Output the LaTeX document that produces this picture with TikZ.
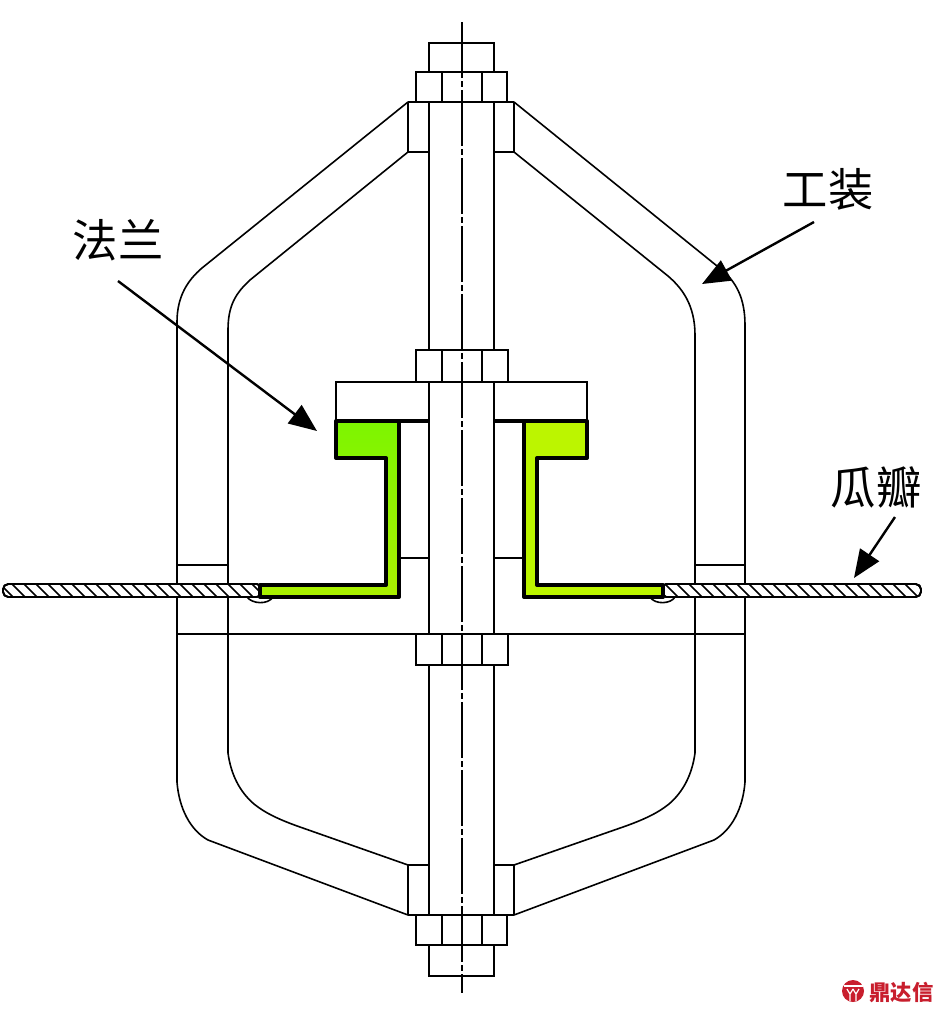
\documentclass[tikz,border=0pt]{standalone}
\usepackage{fontspec}
\newfontfamily\cjk{Noto Sans CJK SC}
\usetikzlibrary{arrows.meta}
\definecolor{greenLtop}{RGB}{125,245,0}
\definecolor{greenLbot}{RGB}{170,240,0}
\definecolor{greenR}{RGB}{188,245,0}
\definecolor{logored}{RGB}{200,30,45}
\tikzset{
  part/.style={draw=black,line width=1.45pt,line join=miter},
  thinpart/.style={draw=black,line width=1.2pt,line cap=round,line join=round},
  heavy/.style={draw=black,line width=3pt,line join=round},
  centre/.style={draw=black,line width=1.3pt,dash pattern=on 42pt off 2.5pt on 4pt off 2.5pt},
  pointer/.style={draw=black,line width=1.8pt,-{Triangle[length=21pt,width=17pt]}},
  caption/.style={font=\cjk\fontsize{34}{34}\selectfont,inner sep=0pt},
  hatchline/.style={draw=black,line width=1.3pt},
  skin/.style={draw=black,line width=1.4pt,fill=white,rounded corners=4pt}
}
\begin{document}
\begin{tikzpicture}[x=0.75pt,y=-0.75pt]
\useasboundingbox (0,0) rectangle (943,1015);
\fill[white] (0,0) rectangle (943,1015);

% fixture frame, left side
\draw[thinpart] (408,102) -- (202,268) .. controls (188,280) and (177,296) .. (177,322) -- (177,782)
  .. controls (179,808) and (190,830) .. (208,840) -- (408,915);
\draw[thinpart] (408,152) -- (250,280) .. controls (236,293) and (228,305) .. (228,330) -- (228,753)
  .. controls (231,775) and (240,792) .. (254,804) .. controls (265,813) and (280,820) .. (300,827) -- (408,865);
% fixture frame, right side
\draw[thinpart] (514,102) -- (722,270) .. controls (736,282) and (745,298) .. (745,325) -- (745,782)
  .. controls (743,808) and (732,830) .. (714,840) -- (514,915);
\draw[thinpart] (514,152) -- (668,276) .. controls (682,288) and (695,305) .. (695,335) -- (695,753)
  .. controls (692,775) and (683,792) .. (669,804) .. controls (658,813) and (643,820) .. (623,827) -- (514,865);
\draw[thinpart] (177,565) -- (228,565) (695,565) -- (745,565);
\draw[part] (177,634) -- (745,634);

% bolt
\draw[part] (429,102) -- (429,350) (494,102) -- (494,350);
\draw[part] (429,382) -- (429,634) (494,382) -- (494,634);
\draw[part] (429,665) -- (429,915) (494,665) -- (494,915);
% top head, nut, plate
\draw[part] (429,72) rectangle (494,43);
\draw[part] (416,72) rectangle (507,102);
\draw[part] (442,72) -- (442,102) (482,72) -- (482,102);
\draw[part] (408,102) -- (408,152) -- (429,152) (514,102) -- (514,152) -- (494,152) (408,102) -- (514,102);
% middle nut
\draw[part] (416,350) rectangle (508,382);
\draw[part] (442,350) -- (442,382) (482,350) -- (482,382);
% lower nut
\draw[part] (416,634) rectangle (508,665);
\draw[part] (442,634) -- (442,665) (482,634) -- (482,665);
% bottom plate, nut, head
\draw[part] (408,915) -- (408,865) -- (429,865) (514,915) -- (514,865) -- (494,865) (408,915) -- (514,915);
\draw[part] (416,915) rectangle (507,945);
\draw[part] (442,915) -- (442,945) (482,915) -- (482,945);
\draw[part] (429,945) rectangle (494,976);
% press plate
\draw[part] (336,421) -- (336,382) -- (587,382) -- (587,421);
% spacer lines
\draw[part] (399,558) -- (429,558) (494,558) -- (524,558);

% sheet (petal)
\draw[skin] (3,584) rectangle (262,597);
\draw[skin] (661,584) rectangle (921,597);
\begin{scope}
  \clip[rounded corners=4pt] (3,584) rectangle (262,597);
  \foreach \x in {0,12,...,264} \draw[hatchline] (\x,584) -- (\x+13,597);
\end{scope}
\begin{scope}
  \clip[rounded corners=4pt] (661,584) rectangle (921,597);
  \foreach \x in {653,665,...,925} \draw[hatchline] (\x,584) -- (\x+13,597);
\end{scope}
\draw[skin,fill=none] (3,584) rectangle (262,597);
\draw[skin,fill=none] (661,584) rectangle (921,597);
% welds
\draw[thinpart] (247,597) .. controls (252,604) and (268,605) .. (273,597);
\draw[thinpart] (650,597) .. controls (655,605) and (671,604) .. (675,597);

% flanges
\draw[heavy,top color=greenLtop,bottom color=greenLbot] (336,421) -- (399,421) -- (399,597) -- (260,597) -- (260,585) -- (386,585) -- (386,458) -- (336,458) -- cycle;
\draw[heavy,fill=greenR] (587,421) -- (524,421) -- (524,597) -- (663,597) -- (663,585) -- (537,585) -- (537,458) -- (587,458) -- cycle;
\draw[heavy] (399,421) -- (429,421) (494,421) -- (524,421);

% centre line
\coordinate (axisTop) at (462,22);
\coordinate (axisBottom) at (462,993);
\draw[centre] (axisTop) -- (axisBottom);

% labels and pointers
\node[caption] (flange) at (118,240) {法兰};
\node[caption] (fixture) at (828,189) {工装};
\node[caption] (petal) at (876,487) {瓜瓣};
\coordinate (flangeTail) at (118,281);
\coordinate (flangeTip) at (317,431);
\coordinate (fixtureTail) at (814,222);
\coordinate (fixtureTip) at (702,284);
\coordinate (petalTail) at (895,517);
\coordinate (petalTip) at (854,578);
\draw[pointer] (flangeTail) -- (flangeTip);
\draw[pointer] (fixtureTail) -- (fixtureTip);
\draw[pointer] (petalTail) -- (petalTip);

% watermark
\fill[logored] (853,991) circle[radius=11];
\draw[white,line width=0.9pt] (843.5,986) -- (862.5,986);
\draw[white,line width=0.9pt] (847,989) -- (850,994) -- (850,1001) (853,989) -- (850,994);
\draw[white,line width=0.9pt] (859,989) -- (856,994) -- (856,1001) (853,989) -- (856,994);
\node[inner sep=0pt,text=logored,font=\cjk\bfseries\fontsize{16}{16}\selectfont] (mark) at (901.5,992) {鼎达信};
\end{tikzpicture}
\end{document}
